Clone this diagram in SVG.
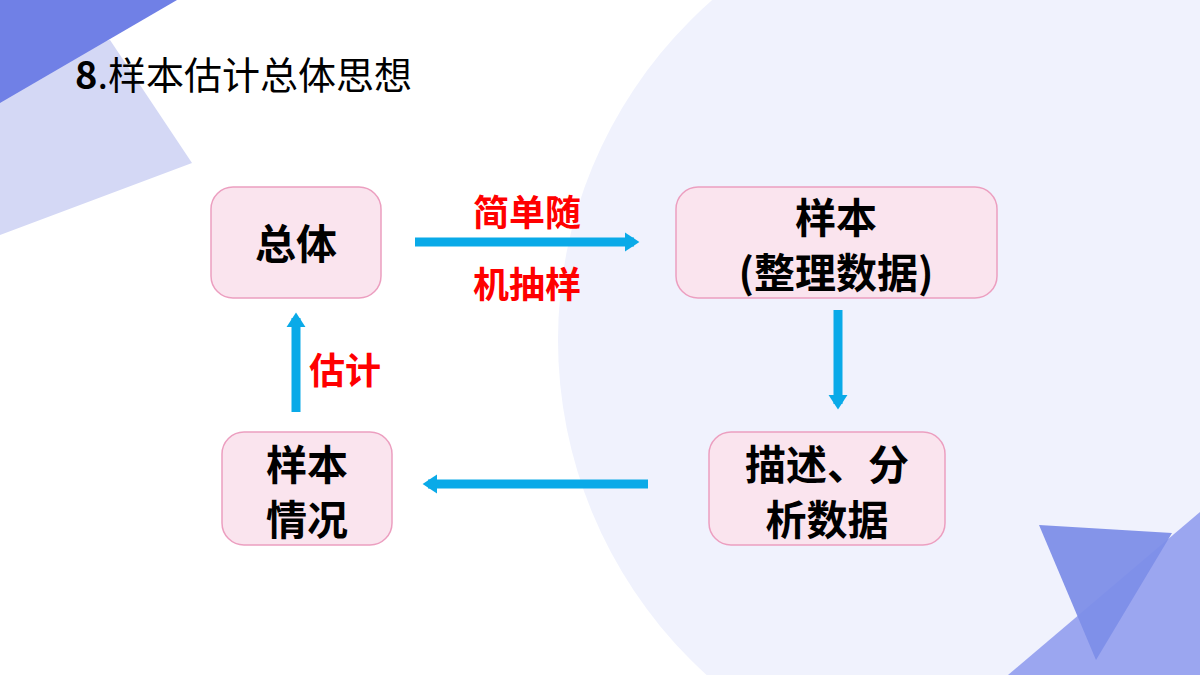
<svg xmlns="http://www.w3.org/2000/svg" width="1200" height="675" viewBox="0 0 1200 675">
<defs>
<style>
.box{fill:#fae4ee;stroke:#ec9fc0;stroke-width:1.5}
.t{font-family:"Noto Sans CJK SC","Liberation Sans",sans-serif;font-weight:bold;font-size:41px;fill:#000;text-anchor:middle}
.r{font-family:"Noto Sans CJK SC","Liberation Sans",sans-serif;font-weight:bold;font-size:36px;fill:#ff0000;text-anchor:middle}
.c{stroke:#0aaae8;stroke-width:9;fill:none}
</style>
<marker id="a" markerWidth="3" markerHeight="3" refX="1" refY="1.5" orient="auto" markerUnits="strokeWidth"><path d="M0,0.45L1.6,1.5L0,2.55Z" fill="#0aaae8"/></marker>
</defs>
<rect width="1200" height="675" fill="#fff"/>
<circle cx="1010" cy="340" r="452" fill="#f0f2fd"/>
<polygon points="0,60 110,40 192,163 0,235" fill="#d4d8f5"/>
<polygon points="0,0 177,0 0,103" fill="#7080e6"/>
<polygon points="1008,675 1200,512 1200,675" fill="#9ba6f0"/>
<polygon points="1039,525 1172,533 1096,660" fill="#7d8ee8" opacity="0.95"/>
<text x="75" y="89" font-family="Noto Sans CJK SC,Liberation Sans,sans-serif" font-size="38" fill="#000"><tspan font-weight="bold">8</tspan>.样本估计总体思想</text>
<g id="n1"><rect class="box" x="211" y="187" width="170" height="111" rx="22"/><text class="t" x="296" y="259">总体</text></g>
<g id="n2"><rect class="box" x="676" y="187" width="321" height="111" rx="22"/><text class="t" x="836" y="233">样本</text><text class="t" x="836" y="288">(整理数据)</text></g>
<g id="n3"><rect class="box" x="709" y="432" width="236" height="113" rx="22"/><text class="t" x="827" y="480">描述、分</text><text class="t" x="827" y="535">析数据</text></g>
<g id="n4"><rect class="box" x="222" y="432" width="170" height="113" rx="22"/><text class="t" x="307" y="480">样本</text><text class="t" x="307" y="535">情况</text></g>
<g id="connectors">
<line class="c" x1="415" y1="242" x2="634" y2="242" marker-end="url(#a)"/>
<line class="c" x1="838" y1="310" x2="838" y2="404" marker-end="url(#a)"/>
<line class="c" x1="648" y1="484" x2="428" y2="484" marker-end="url(#a)"/>
<line class="c" x1="296" y1="412" x2="296" y2="318" marker-end="url(#a)"/>
</g>
<text class="r" x="527" y="226">简单随</text>
<text class="r" x="527" y="298">机抽样</text>
<text class="r" x="345" y="384">估计</text>
</svg>
